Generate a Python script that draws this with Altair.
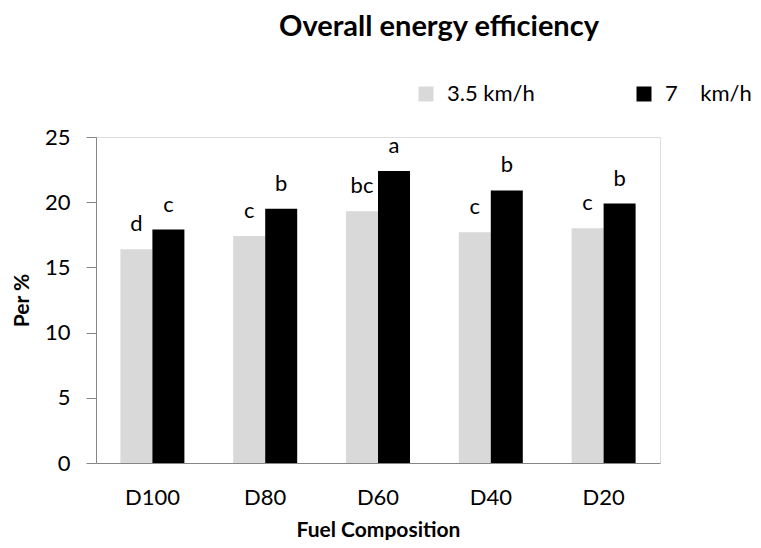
import altair as alt
import pandas as pd

fuels = ["D100", "D80", "D60", "D40", "D20"]
speeds = ["3.5 km/h", "7\u00a0\u00a0\u00a0\u00a0km/h"]
slow_values = [16.4, 17.4, 19.3, 17.7, 18.0]
fast_values = [17.9, 19.5, 22.4, 20.9, 19.9]
slow_letters = ["d", "c", "bc", "c", "c"]
fast_letters = ["c", "b", "a", "b", "b"]
colors = ["#d9d9d9", "#000000"]

rows = []
for i, f in enumerate(fuels):
    rows.append({"fuel": f, "speed": speeds[0], "value": slow_values[i], "letter": slow_letters[i]})
    rows.append({"fuel": f, "speed": speeds[1], "value": fast_values[i], "letter": fast_letters[i]})
df = pd.DataFrame(rows)

FONT = "Lato"

base = alt.Chart(df).encode(
    x=alt.X(
        "fuel:N",
        sort=fuels,
        scale=alt.Scale(paddingInner=0, paddingOuter=0),
        axis=alt.Axis(
            title="Fuel Composition",
            labelAngle=0,
            ticks=False,
            tickSize=0,
            domainColor="#868686",
            labelFont=FONT,
            labelFontSize=22,
            labelColor="#000000",
            labelPadding=24,
            titleFont=FONT,
            titleFontSize=21,
            titleFontWeight="bold",
            titleColor="#000000",
            titlePadding=11,
        ),
    ),
    xOffset=alt.XOffset(
        "speed:N", sort=speeds, scale=alt.Scale(paddingOuter=0.7625, paddingInner=0)
    ),
    y=alt.Y(
        "value:Q",
        scale=alt.Scale(domain=[0, 25]),
        axis=alt.Axis(
            title="Per %",
            values=[0, 5, 10, 15, 20, 25],
            grid=False,
            tickSize=10,
            tickColor="#868686",
            domainColor="#868686",
            labelFont=FONT,
            labelFontSize=22,
            labelColor="#000000",
            labelPadding=16,
            titleFont=FONT,
            titleFontSize=21,
            titleFontWeight="bold",
            titleColor="#000000",
            titlePadding=12,
        ),
    ),
)

bars = base.mark_bar().encode(
    color=alt.Color(
        "speed:N",
        sort=speeds,
        scale=alt.Scale(domain=speeds, range=colors),
        legend=alt.Legend(
            title=None,
            orient="none",
            legendX=319,
            legendY=-54,
            direction="horizontal",
            symbolType="square",
            symbolSize=225,
            symbolStrokeWidth=0,
            labelFont=FONT,
            labelFontSize=22,
            labelColor="#000000",
            labelOffset=10,
            columnPadding=98,
            padding=0,
            labelLimit=300,
        ),
    )
)

text = base.mark_text(font=FONT, fontSize=22, baseline="alphabetic", dy=-18, color="#000000").encode(
    text="letter:N"
)

chart = (
    alt.layer(bars, text)
    .properties(
        width=564,
        height=326,
        autosize=alt.AutoSizeParams(type="none"),
        padding={"left": 88, "top": 129, "right": 93, "bottom": 77},
        title=alt.TitleParams(
            text="Overall energy efficiency",
            font=FONT,
            fontSize=29,
            fontWeight="bold",
            color="#000000",
            anchor="middle",
            frame="group",
            dx=61,
            offset=18,
            baseline="alphabetic",
        ),
    )
    .configure_view(strokeWidth=0)
    .configure(background="#ffffff")
)

chart.save("out.html", embed_options={"renderer": "svg", "actions": False})
